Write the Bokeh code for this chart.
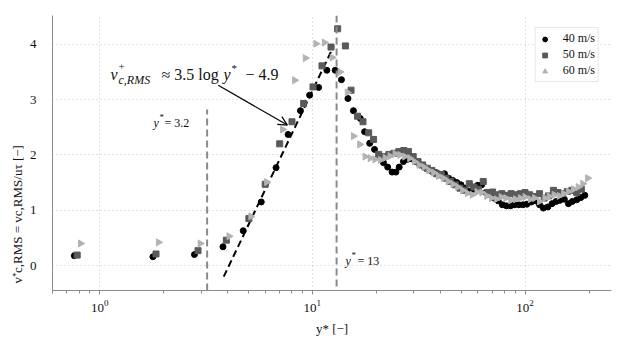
import numpy as np
from bokeh.plotting import figure
from bokeh.models import Label, Arrow, OpenHead, Span, Legend, LegendItem, FixedTicker, Title
from bokeh.embed import file_html
from bokeh.resources import INLINE

# ---------------- data ----------------
x40 = [0.76, 1.78, 2.79, 3.80, 4.73, 5.75, 6.75, 7.69, 8.79, 9.71, 10.7, 11.7, 12.8, 13.7, 14.7,
       15.6, 16.8, 17.6, 18.6, 19.6, 20.6, 21.6, 22.6, 23.7, 24.7, 25.6, 26.8, 28.0, 29.3, 30.6,
       32.0, 33.5, 35.0, 36.6, 38.3, 40.0, 41.8, 43.7, 45.7, 47.8, 50.0, 52.3, 54.7, 57.2, 59.8,
       62.5, 65.4, 68.4, 71.5, 74.8, 78.2, 81.8, 85.5, 89.4, 93.5, 97.8, 102, 107, 112, 117,
       122, 128, 134, 140, 146, 153, 160, 167, 175, 183, 191]
v40 = [0.18, 0.16, 0.20, 0.34, 0.63, 1.15, 1.77, 2.37, 2.80, 3.08, 3.22, 3.53, 3.53, 3.36, 3.02,
       2.80, 2.66, 2.42, 2.21, 2.10, 1.98, 1.86, 1.78, 1.69, 1.69, 1.78, 1.88, 1.92, 1.93, 1.88,
       1.82, 1.78, 1.74, 1.70, 1.68, 1.64, 1.66, 1.58, 1.54, 1.50, 1.46, 1.40, 1.34, 1.38, 1.45,
       1.46, 1.32, 1.28, 1.22, 1.17, 1.10, 1.08, 1.08, 1.10, 1.10, 1.10, 1.11, 1.15, 1.17, 1.10,
       1.04, 1.06, 1.12, 1.16, 1.18, 1.20, 1.12, 1.16, 1.19, 1.23, 1.27]

x50 = [0.784, 1.84, 2.90, 3.94, 5.03, 6.00, 7.02, 8.02, 9.10, 10.07, 11.1, 12.24, 13.15, 14.3, 15.2,
       16.3, 17.3, 18.4, 19.4, 20.5, 21.7, 22.9, 24.2, 25.5, 26.9, 28.3, 29.8, 31.4, 33.0, 34.7,
       36.5, 38.4, 40.4, 42.5, 44.7, 47.0, 49.4, 52.0, 54.7, 57.5, 60.5, 63.6, 66.9, 70.4, 74.0,
       77.8, 81.8, 86.0, 90.5, 95.2, 100, 105, 111, 117, 123, 129, 136, 143, 150, 158,
       166, 175, 184]
v50 = [0.19, 0.21, 0.27, 0.46, 0.85, 1.47, 2.20, 2.60, 2.93, 3.23, 3.61, 3.95, 4.28, 3.97, 3.17,
       2.70, 2.60, 2.40, 2.28, 2.01, 1.97, 2.01, 2.03, 2.06, 2.08, 2.06, 1.97, 1.88, 1.82, 1.76,
       1.72, 1.66, 1.64, 1.58, 1.52, 1.46, 1.40, 1.36, 1.48, 1.42, 1.38, 1.52, 1.32, 1.33, 1.28,
       1.30, 1.27, 1.30, 1.28, 1.30, 1.32, 1.28, 1.25, 1.30, 1.22, 1.26, 1.36, 1.32, 1.30, 1.34,
       1.36, 1.32, 1.38]

x60 = [0.813, 1.89, 2.97, 4.06, 5.14, 6.10, 7.25, 8.26, 9.27, 10.4, 11.4, 12.4, 13.5, 14.6, 15.6,
       16.7, 17.7, 18.7, 19.7, 20.9, 22.0, 23.2, 24.5, 25.8, 27.2, 28.7, 30.2, 31.8, 33.5, 35.3,
       37.2, 39.2, 41.3, 43.5, 45.8, 48.3, 50.9, 53.6, 56.5, 59.5, 62.7, 66.1, 69.6, 73.3, 77.2,
       81.3, 85.7, 90.3, 95.1, 100, 106, 111, 117, 124, 130, 137, 145, 152, 160, 169,
       178, 187, 197]
v60 = [0.40, 0.42, 0.40, 0.53, 0.89, 1.51, 2.46, 3.35, 3.75, 4.01, 4.03, 3.76, 3.50, 3.13, 2.34,
       2.19, 1.97, 1.94, 1.92, 1.91, 1.95, 1.98, 2.02, 2.00, 1.97, 1.94, 1.88, 1.82, 1.78, 1.72,
       1.68, 1.62, 1.58, 1.52, 1.47, 1.42, 1.36, 1.31, 1.28, 1.33, 1.32, 1.26, 1.22, 1.20, 1.24,
       1.22, 1.18, 1.20, 1.22, 1.24, 1.20, 1.22, 1.16, 1.22, 1.25, 1.28, 1.26, 1.30, 1.34, 1.38,
       1.42, 1.48, 1.58]

series_names = ["40 m/s", "50 m/s", "60 m/s"]
fit_slope, fit_offset = 3.5, -4.9
fit_x = [3.83, 12.6]
vline_a_x, vline_a_top = 3.2, 2.82
vline_b_x = 13.0
arrow_from = (3.61, 3.26)
arrow_to = (7.63, 2.54)
yticks = [0, 1, 2, 3, 4]

XMIN, XMAX = 0.6, 255
YMIN, YMAX = -0.45, 4.52

FONT = "Liberation Serif"
TXT = "#111111"
SPINE = "#8c8c8c"

p = figure(width=617, height=340, x_axis_type="log",
           x_range=(XMIN, XMAX), y_range=(YMIN, YMAX),
           output_backend="svg", toolbar_location=None,
           min_border_left=52, min_border_right=6, min_border_top=15, min_border_bottom=50)
p.outline_line_color = None
p.background_fill_color = "white"
p.border_fill_color = "white"

# axes
p.yaxis.ticker = FixedTicker(ticks=yticks)
p.yaxis.major_tick_line_color = None
p.yaxis.minor_tick_line_color = None
p.yaxis.major_label_standoff = 10
for ax in (p.xaxis, p.yaxis):
    ax.axis_line_color = SPINE
    ax.major_label_text_font = FONT
    ax.major_label_text_font_size = "13px"
    ax.major_label_text_color = TXT
    ax.axis_label_text_font = FONT
    ax.axis_label_text_font_size = "13px"
    ax.axis_label_text_font_style = "normal"
    ax.axis_label_text_color = TXT
p.xaxis.axis_label = "y* [\u2212]"
p.xaxis.axis_label_standoff = 6
p.xaxis.major_tick_line_color = SPINE
p.xaxis.minor_tick_line_color = SPINE
p.xaxis.major_tick_out = 4
p.xaxis.major_tick_in = 0
p.xaxis.minor_tick_out = 3
p.xaxis.minor_tick_in = 0
p.xaxis.major_label_standoff = 5

# y label as a left-side title so it can sit low, as in the reference
p.add_layout(Title(text="v\u207ac,RMS = vc,RMS/u\u03c4  [\u2212]", align="left", offset=7,
                   text_font=FONT, text_font_size="13px", text_font_style="normal",
                   text_color=TXT, standoff=4), "left")

for g in (p.xgrid, p.ygrid):
    g.grid_line_color = "#c4c4c4"
    g.grid_line_dash = "1 3"
    g.grid_line_width = 1
p.ygrid.ticker = FixedTicker(ticks=yticks)

# reference lines
p.segment(x0=[vline_a_x], y0=[YMIN], x1=[vline_a_x], y1=[vline_a_top],
          line_color="#8a8a8a", line_width=2, line_dash="7 4")
p.add_layout(Span(location=vline_b_x, dimension="height", line_color="#8a8a8a",
                  line_width=2, line_dash="7 4"))

# fit line
fit_y = [fit_slope * np.log(v) + fit_offset for v in fit_x]
p.line(fit_x, fit_y, line_color="black", line_width=2, line_dash="7 4")

# markers
r40 = p.scatter(x40, v40, marker="circle", size=6, fill_color="black", line_color="black")
r50 = p.scatter(x50, v50, marker="square", size=6, fill_color="#5a5a5a", line_color="#5a5a5a")
r60 = p.scatter(x60, v60, marker="triangle", size=7, angle=-90, angle_units="deg",
                fill_color="#b3b3b3", line_color="#b3b3b3")

legend = Legend(items=[LegendItem(label=series_names[0], renderers=[r40]),
                       LegendItem(label=series_names[1], renderers=[r50]),
                       LegendItem(label=series_names[2], renderers=[r60])],
                location="top_right", margin=12, padding=3, spacing=1,
                label_text_font=FONT, label_text_font_size="12px", label_text_color=TXT,
                label_height=12, glyph_height=12, glyph_width=12, label_standoff=12,
                border_line_color="#d0d0d0", background_fill_alpha=1.0)
p.add_layout(legend)

# arrow
p.add_layout(Arrow(end=OpenHead(size=9, line_width=1.2, line_color="black"),
                   x_start=arrow_from[0], y_start=arrow_from[1],
                   x_end=arrow_to[0], y_end=arrow_to[1],
                   line_color="black", line_width=1.2))

# ---- text pieces (positions in window pixels) ----
FRAME_L, FRAME_B, PX_PER_UNIT = 52, 290, 275 / (YMAX - YMIN)

def ydata(py):
    return (FRAME_B - py) / PX_PER_UNIT + YMIN

def piece(px, py, text, size=13, style="normal", angle=0):
    p.add_layout(Label(x=XMIN, y=ydata(py), x_units="data", y_units="data",
                       x_offset=px - FRAME_L, text=text, text_font=FONT,
                       text_font_size=f"{size}px", text_font_style=style,
                       text_align="left", text_baseline="alphabetic",
                       angle=angle, text_color=TXT))

# annotation  v+_{c,RMS} ≈ 3.5 log y* − 4.9
piece(110, 74, "v", 16, "italic")
piece(118, 66, "+", 11)
piece(118, 79, "c,RMS", 12, "italic")
piece(161, 74, "\u2248 3.5 log", 16)
piece(223, 74, "y", 16, "italic")
piece(231, 67, "*", 11)
piece(245, 74, "\u2212 4.9", 16)

# y* = 3.2
piece(153, 122, "y", 12, "italic")
piece(159, 116, "*", 9)
piece(164, 122, "= 3.2", 12)
# y* = 13
piece(345, 260, "y", 12, "italic")
piece(351, 254, "*", 9)
piece(357, 260, "= 13", 12)

open("out.html", "w").write(file_html(p, INLINE))
